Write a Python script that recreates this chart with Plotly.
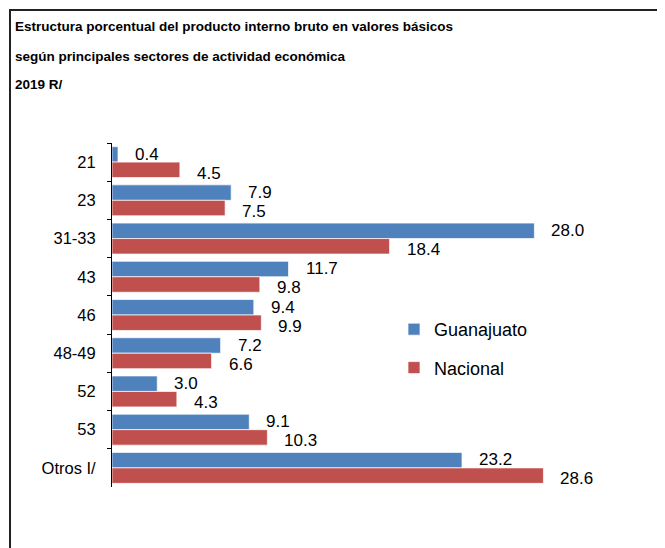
import plotly.graph_objects as go

categories = ["21", "23", "31-33", "43", "46", "48-49", "52", "53", "Otros I/"]
guanajuato = [0.4, 7.9, 28.0, 11.7, 9.4, 7.2, 3.0, 9.1, 23.2]
nacional = [4.5, 7.5, 18.4, 9.8, 9.9, 6.6, 4.3, 10.3, 28.6]
title_lines = [
    "Estructura porcentual del producto interno bruto en valores básicos",
    "según principales sectores de actividad económica",
    "2019 R/",
]

BLUE = "#4F81BD"
RED = "#C0504D"
OFF = 8  # page body margin
W, H = 665, 548
ML, MT = 112 - OFF, 143 - OFF
PW = 528
PH = 344
MR = W - ML - PW
MB = H - MT - PH
FONT = "Liberation Sans, Arial"


def px(x):
    return (x - OFF - ML) / PW


def py(y):
    return (MT + PH - (y - OFF)) / PH


fig = go.Figure()
fig.add_trace(go.Bar(y=categories, x=guanajuato, orientation="h", name="Guanajuato",
                     marker=dict(color=BLUE, line=dict(color="rgba(255,255,255,0.7)", width=1)),
                     legendgroup="g"))
fig.add_trace(go.Bar(y=categories, x=nacional, orientation="h", name="Nacional",
                     marker=dict(color=RED, line=dict(color="rgba(255,255,255,0.7)", width=1)),
                     legendgroup="n"))

annotations = []
for i, v in enumerate(guanajuato):
    annotations.append(dict(x=v, y=i, xref="x", yref="y", text=f"{v:.1f}", showarrow=False,
                            xanchor="left", yanchor="middle", xshift=15, yshift=8,
                            font=dict(family=FONT, size=17, color="#000")))
for i, v in enumerate(nacional):
    annotations.append(dict(x=v, y=i, xref="x", yref="y", text=f"{v:.1f}", showarrow=False,
                            xanchor="left", yanchor="middle", xshift=15, yshift=-11,
                            font=dict(family=FONT, size=17, color="#000")))

title_y = [26, 56, 85]
for t, yy in zip(title_lines, title_y):
    annotations.append(dict(x=px(13), y=py(yy), xref="paper", yref="paper",
                            text=f"<b>{t}</b>", showarrow=False, xanchor="left", yanchor="middle",
                            font=dict(family=FONT, size=13.5, color="#000")))

shapes = [dict(type="rect", xref="paper", yref="paper",
               x0=px(10), x1=px(664), y0=py(580), y1=py(10),
               line=dict(color="#222", width=2), fillcolor="rgba(0,0,0,0)")]

fig.update_layout(
    width=W, height=H,
    margin=dict(l=ML, r=MR, t=MT, b=MB, autoexpand=False),
    paper_bgcolor="white", plot_bgcolor="white",
    barmode="group", bargap=0.19, bargroupgap=0,
    font=dict(family=FONT, size=14, color="#000"),
    xaxis=dict(range=[0, 35], visible=False, automargin=False),
    yaxis=dict(type="category", range=[len(categories) - 0.5, -0.5],
               showline=True, linecolor="#000", linewidth=1,
               ticks="outside", tickson="boundaries", ticklen=4, tickcolor="#000",
               showgrid=False, ticklabelstandoff=12, automargin=False,
               tickfont=dict(family=FONT, size=16.5, color="#000")),
    legend=dict(x=px(394), y=py(311), xanchor="left", yanchor="top",
                traceorder="grouped", tracegroupgap=12, bgcolor="rgba(0,0,0,0)",
                font=dict(family=FONT, size=18, color="#000"),
                itemwidth=30),
    annotations=annotations,
    shapes=shapes,
)

fig.write_html("out.html")
